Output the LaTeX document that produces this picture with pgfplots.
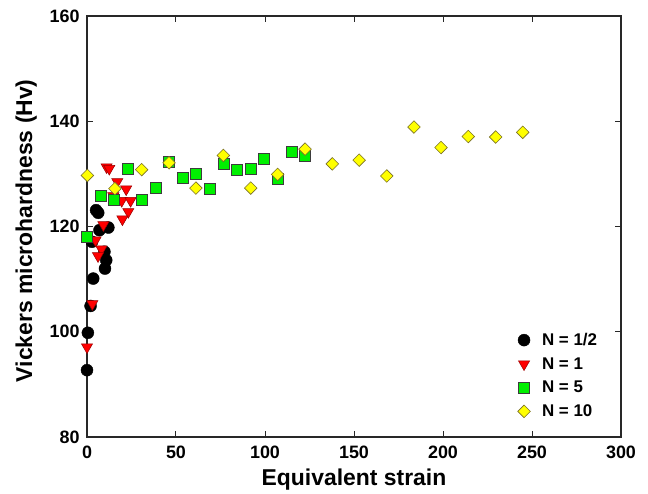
\documentclass[border=0pt]{standalone}
\usepackage{pgfplots}
\pgfplotsset{compat=1.18}
\usepackage{fontspec}
\setmainfont{Liberation Sans}
\usetikzlibrary{calc}
\definecolor{mred}{RGB}{255,0,0}
\definecolor{mredd}{RGB}{150,0,0}
\definecolor{mgreen}{RGB}{0,240,0}
\definecolor{mgreend}{RGB}{60,60,60}
\definecolor{myellow}{RGB}{255,255,0}
\definecolor{myellowd}{RGB}{120,110,40}
\definecolor{axgray}{RGB}{40,40,40}
\pgfplotsset{mylegend/.style={legend image code/.code={\path[draw=none,fill=none] (-7bp,0bp) -- (16bp,0bp); \draw[##1] plot coordinates {(0bp,0bp)};}}}
\begin{document}
\begin{tikzpicture}
\begin{axis}[
  scale only axis, width=534bp, height=421bp,
  xmin=0, xmax=300, ymin=80, ymax=160,
  xtick={0,50,...,300}, ytick={80,100,...,160},
  tick align=inside, major tick length=6bp,
  axis line style={line width=1.2bp, draw=axgray},
  every tick/.style={line width=1bp, axgray},
  tick label style={font=\fontsize{18}{20}\selectfont\bfseries},
  xticklabel style={yshift=-5bp},
  yticklabel style={xshift=-4bp},
  /pgf/number format/assume math mode=true,
  xlabel={Equivalent strain},
  ylabel={Vickers microhardness (Hv)},
  label style={font=\fontsize{23}{26}\selectfont\bfseries},
  xlabel style={at={(axis description cs:0.5,-0.102)}, anchor=center},
  ylabel style={at={(axis description cs:-0.114,0.49)}, anchor=center},
  legend style={at={(axis description cs:0.965,0.035)}, anchor=south east,
    draw=none, fill=none, font=\fontsize{17}{19}\selectfont\bfseries,
    row sep=6.5bp},
  legend cell align=left,
]
% N = 1/2
\addplot[only marks, mark=*, mark size=6bp, mark options={fill=black, draw=black}, mylegend]
coordinates {
(0,92.7) (0.5,99.8) (2,104.9) (3.5,110.1) (10.1,112.0) (10.8,113.6)
(9.8,115.2) (2.8,117.1) (7,119.3) (12,119.8) (5.1,123.1) (6.3,122.6)
};
% N = 1
\addplot[only marks, mark=triangle*, mark size=6.5bp,
  mark options={rotate=180, fill=mred, draw=mredd, line width=0.5bp}, mylegend]
coordinates {
(11,131.3) (12.5,131.0) (17,128.5) (22,127.1) (14.8,125.8) (19.5,124.9)
(24.5,124.9) (23.2,122.8) (19.9,121.4) (9.2,120.3) (4.8,117.4) (8.1,115.7)
(6.2,114.4) (3,105.3) (0,97.1)
};
% N = 5
\addplot[only marks, mark=square*, mark size=5.5bp,
  mark options={fill=mgreen, draw=mgreend, line width=0.6bp}, mylegend]
coordinates {
(0,118.0) (7.7,125.9) (15.2,125.0) (23.2,131.0) (30.7,125.0) (38.6,127.4)
(45.7,132.2) (53.7,129.3) (61.2,130.1) (69.1,127.2) (76.6,132.0) (84.1,130.8)
(92,130.9) (99.6,132.9) (107.1,129.0) (114.8,134.2) (122.5,133.5)
};
% N = 10
\addplot[only marks, mark=diamond*, mark size=6.3bp,
  mark options={xscale=1.3333, fill=myellow, draw=myellowd, line width=0.6bp}, mylegend]
coordinates {
(0.2,129.7) (15.7,127.2) (30.7,130.8) (46.1,132.1) (61.2,127.3) (76.6,133.5)
(92,127.3) (107.1,129.9) (122.5,134.7) (137.8,131.9) (152.9,132.6) (168.4,129.6)
(183.7,138.9) (198.9,135.0) (214.2,137.1) (229.6,137.0) (244.8,137.9)
};
\legend{N = 1/2, N = 1, N = 5, N = 10}
\end{axis}
\pgfresetboundingbox
\path[use as bounding box] ($(current axis.south west)+(-87bp,-57bp)$) rectangle ($(current axis.north east)+(27bp,16bp)$);
\end{tikzpicture}
\end{document}
